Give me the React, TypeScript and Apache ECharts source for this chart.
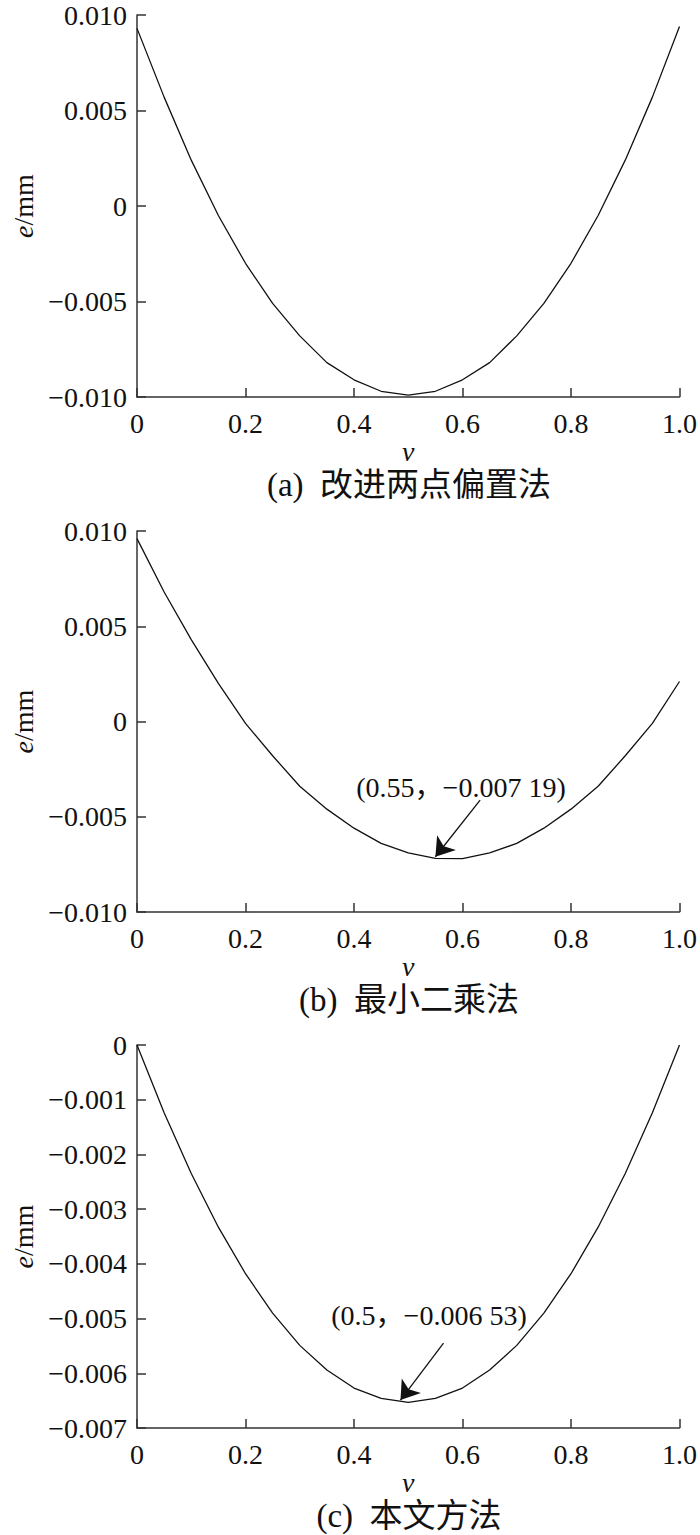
import React, { useEffect, useRef } from "react";
import * as echarts from "echarts";

const vValues = [0, 0.05, 0.1, 0.15, 0.2, 0.25, 0.3, 0.35, 0.4, 0.45, 0.5, 0.55, 0.6, 0.65, 0.7, 0.75, 0.8, 0.85, 0.9, 0.95, 1.0];

const errA = [0.0093, 0.0057, 0.0024, -0.0005, -0.003, -0.0051, -0.0068, -0.0082, -0.0091, -0.0097, -0.0099, -0.0097, -0.0091, -0.0082, -0.0068, -0.0051, -0.003, -0.0005, 0.0024, 0.0057, 0.0094];

const errB = [0.0096, 0.0068, 0.0043, 0.002, -0.0001, -0.0018, -0.0034, -0.0046, -0.0056, -0.0064, -0.0069, -0.00719, -0.0072, -0.0069, -0.0064, -0.0056, -0.0046, -0.0034, -0.0018, -0.0001, 0.0021];

const errC = [0, -0.00124, -0.00235, -0.00333, -0.00418, -0.0049, -0.00549, -0.00594, -0.00627, -0.00646, -0.00653, -0.00646, -0.00627, -0.00594, -0.00549, -0.0049, -0.00418, -0.00333, -0.00235, -0.00124, 0];

const captions = ["(a)  改进两点偏置法", "(b)  最小二乘法", "(c)  本文方法"];
const annotB = "(0.55，−0.007 19)";
const annotC = "(0.5，−0.006 53)";

const SERIF = "Liberation Serif";
const MIXED = "Liberation Serif, Noto Sans CJK SC, serif";
const INK = "#111";
const AXIS = "#333";

function fmtY(v: number, digits: number) {
  if (Math.abs(v) < 1e-12) return "0";
  const s = Math.abs(v).toFixed(digits);
  return v < 0 ? "−" + s : s;
}

function fmtX(v: number) {
  if (Math.abs(v) < 1e-12) return "0";
  if (Math.abs(v - 1) < 1e-9) return "1.0";
  return v.toFixed(1);
}

export default function App() {
  const ref = useRef<HTMLDivElement>(null);

  useEffect(() => {
    if (!ref.current) return;
    const chart = echarts.init(ref.current, undefined, { renderer: "svg" });

    const grids = [
      { left: 137, top: 15, width: 545, height: 382 },
      { left: 137, top: 531, width: 545, height: 381 },
      { left: 137, top: 1045, width: 545, height: 383 },
    ];

    const yCfg = [
      { min: -0.01, max: 0.01, interval: 0.005, digits: 3 },
      { min: -0.01, max: 0.01, interval: 0.005, digits: 3 },
      { min: -0.007, max: 0, interval: 0.001, digits: 3 },
    ];

    const xAxes = grids.map((_, i) => ({
      type: "value",
      gridIndex: i,
      min: 0,
      max: 1,
      interval: 0.2,
      name: "v",
      nameLocation: "middle",
      nameGap: 37,
      nameTextStyle: { fontFamily: SERIF, fontStyle: "italic", fontSize: 28, color: INK },
      axisLine: { show: true, onZero: false, lineStyle: { color: AXIS, width: 1.5 } },
      axisTick: { show: true, inside: true, length: 9, lineStyle: { color: AXIS, width: 1.5 } },
      axisLabel: {
        margin: 12,
        fontFamily: SERIF,
        fontSize: 28,
        color: INK,
        formatter: (v: number) => fmtX(v),
      },
      splitLine: { show: false },
    }));

    const yAxes = grids.map((_, i) => ({
      type: "value",
      gridIndex: i,
      min: yCfg[i].min,
      max: yCfg[i].max,
      interval: yCfg[i].interval,
      name: "{i|e}/mm",
      nameLocation: "middle",
      nameRotate: 90,
      nameGap: 97,
      nameTextStyle: {
        fontFamily: SERIF,
        fontSize: 28,
        color: INK,
        rich: { i: { fontFamily: SERIF, fontSize: 28, fontStyle: "italic", color: INK } },
      },
      axisLine: { show: true, onZero: false, lineStyle: { color: AXIS, width: 1.5 } },
      axisTick: { show: true, inside: true, length: 9, lineStyle: { color: AXIS, width: 1.5 } },
      axisLabel: {
        margin: 10,
        fontFamily: SERIF,
        fontSize: 28,
        color: INK,
        formatter: (v: number) => fmtY(v, yCfg[i].digits),
      },
      splitLine: { show: false },
    }));

    const datasets = [errA, errB, errC];
    const arrows: any[] = [
      null,
      [[{ coord: [0.6325, -0.00413] }, { coord: [0.55, -0.0071] }]],
      [[{ coord: [0.565, -0.00545] }, { coord: [0.4857, -0.00649] }]],
    ];

    const series = datasets.map((d, i) => {
      const s: any = {
        type: "line",
        xAxisIndex: i,
        yAxisIndex: i,
        data: vValues.map((v, k) => [v, d[k]]),
        symbol: "none",
        lineStyle: { color: INK, width: 1.3 },
        silent: true,
      };
      if (arrows[i]) {
        s.markLine = {
          silent: true,
          symbol: ["none", "arrow"],
          symbolSize: 18,
          itemStyle: { color: INK },
          lineStyle: { color: INK, width: 1.3, type: "solid" },
          label: { show: false },
          data: arrows[i],
        };
      }
      return s;
    });

    const captionY = [485, 1000, 1516];
    const graphic: any[] = captionY.map((y, i) => ({
      type: "text",
      x: 409,
      y,
      style: {
        text: captions[i],
        fontFamily: MIXED,
        fontSize: 33,
        fill: INK,
        textAlign: "center",
        textVerticalAlign: "middle",
      },
    }));
    graphic.push({
      type: "text",
      x: 461,
      y: 787,
      style: { text: annotB, fontFamily: MIXED, fontSize: 28, fill: INK, textAlign: "center", textVerticalAlign: "middle" },
    });
    graphic.push({
      type: "text",
      x: 429,
      y: 1315,
      style: { text: annotC, fontFamily: MIXED, fontSize: 28, fill: INK, textAlign: "center", textVerticalAlign: "middle" },
    });

    chart.setOption({
      animation: false,
      backgroundColor: "#fff",
      grid: grids.map((g) => ({ ...g, containLabel: false })),
      xAxis: xAxes,
      yAxis: yAxes,
      series,
      graphic,
    });

    return () => chart.dispose();
  }, []);

  return (
    <div
      ref={ref}
      style={{ position: "absolute", left: 0, top: 0, width: 700, height: 1535, background: "#fff" }}
    />
  );
}
